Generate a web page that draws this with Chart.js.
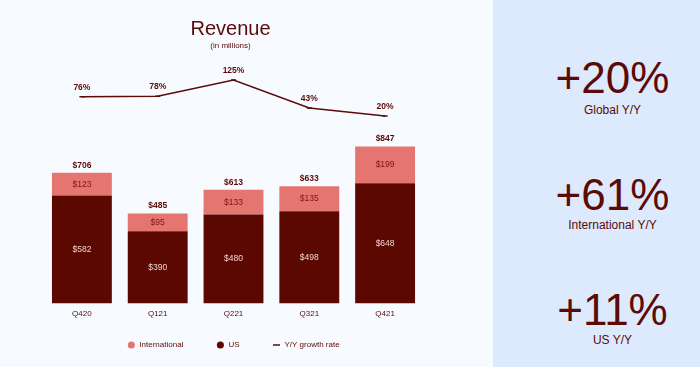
<!DOCTYPE html>
<html>
<head>
<meta charset="utf-8">
<script src="https://cdn.jsdelivr.net/npm/chart.js@4/dist/chart.umd.min.js"></script>
<style>
  body { margin: 0; width: 700px; height: 367px; position: relative; overflow: hidden;
         background: #f7fbff; font-family: "Liberation Sans", Arial, sans-serif; color: #5b0a06; }
  #chart-box { position: absolute; left: 0; top: 0; width: 493px; height: 367px; }
  .title { position: absolute; left: 0; width: 461px; text-align: center; line-height: 1; }
  #title { top: 18px; font-size: 20px; }
  #subtitle { top: 42px; font-size: 8px; }
  #panel { position: absolute; left: 493px; top: 0; width: 207px; height: 367px; background: #dde9fc; }
  .stat, .stat-label { position: absolute; left: 32px; width: 175px; text-align: center; line-height: 1; white-space: nowrap; }
  .stat { font-size: 44px; }
  .stat-label { font-size: 12px; }
</style>
</head>
<body>
<div id="chart-box"><canvas id="revenue"></canvas></div>
<div class="title" id="title">Revenue</div>
<div class="title" id="subtitle">(in millions)</div>
<div id="panel"></div>
<script>
const quarters = ['Q420', 'Q121', 'Q221', 'Q321', 'Q421'];
const usRevenue = [582, 390, 480, 498, 648];
const intlRevenue = [123, 95, 133, 135, 199];
const totalRevenue = [706, 485, 613, 633, 847];
const growthRate = [76, 78, 125, 43, 20];

const statValues = ['+20%', '+61%', '+11%'];
const statLabels = ['Global Y/Y', 'International Y/Y', 'US Y/Y'];

const maroon = '#5b0a06';
const darkBar = '#5a0800';
const lightBar = '#e57571';

// right panel, tops line up with the reference baselines
const statTops = [56, 173, 288];
const labelTops = [104, 219, 334];
const panel = document.getElementById('panel');
statValues.forEach((v, i) => {
    const big = document.createElement('div');
    big.className = 'stat';
    big.style.top = statTops[i] + 'px';
    big.textContent = v;
    const small = document.createElement('div');
    small.className = 'stat-label';
    small.style.top = labelTops[i] + 'px';
    small.textContent = statLabels[i];
    panel.appendChild(big);
    panel.appendChild(small);
});

Chart.defaults.font.family = '"Liberation Sans", Arial, sans-serif';
Chart.defaults.color = maroon;

const valueLabels = {
    id: 'valueLabels',
    afterDatasetsDraw(chart) {
        const ctx = chart.ctx;
        const us = chart.getDatasetMeta(0).data;
        const intl = chart.getDatasetMeta(1).data;
        const line = chart.getDatasetMeta(2).data;
        ctx.save();
        ctx.textAlign = 'center';
        ctx.textBaseline = 'middle';
        ctx.font = '8.5px "Liberation Sans", Arial';
        us.forEach((bar, i) => {
            ctx.fillStyle = '#f2d2cf';
            ctx.fillText('$' + usRevenue[i], bar.x, (bar.y + bar.base) / 2);
        });
        intl.forEach((bar, i) => {
            ctx.fillStyle = '#7a1612';
            ctx.fillText('$' + intlRevenue[i], bar.x, (bar.y + bar.base) / 2);
        });
        ctx.font = 'bold 8.5px "Liberation Sans", Arial';
        ctx.fillStyle = maroon;
        intl.forEach((bar, i) => {
            ctx.fillText('$' + totalRevenue[i], bar.x, bar.y - 7.5);
        });
        line.forEach((pt, i) => {
            ctx.fillText(growthRate[i] + '%', pt.x, pt.y - 9);
        });
        ctx.restore();
    }
};

// legend padding is big to spread the items apart, pull its top back up under the axis
const legendLift = {
    id: 'legendLift',
    afterLayout(chart) {
        chart.legend.top -= 17;
    }
};

const legendRank = [1, 0, 2];

new Chart(document.getElementById('revenue'), {
    type: 'bar',
    data: {
        labels: quarters,
        datasets: [
            { label: 'US', data: usRevenue, backgroundColor: darkBar, pointStyle: 'circle', order: 2 },
            { label: 'International', data: intlRevenue, backgroundColor: lightBar, pointStyle: 'circle', order: 2 },
            { type: 'line', label: 'Y/Y growth rate', data: growthRate, yAxisID: 'y1',
              borderColor: maroon, backgroundColor: maroon, borderWidth: 1.5,
              pointRadius: 2.5, pointBackgroundColor: maroon, pointStyle: 'line', tension: 0, order: 1 }
        ]
    },
    options: {
        responsive: true,
        maintainAspectRatio: false,
        animation: false,
        layout: { padding: { left: 44, right: 70, top: 60, bottom: 0 } },
        datasets: { bar: { barPercentage: 0.79, categoryPercentage: 1 } },
        elements: { point: { pointStyle: 'circle' } },
        scales: {
            x: {
                stacked: true,
                grid: { display: false, drawTicks: false },
                border: { display: false },
                ticks: { padding: 6, font: { size: 8 }, color: maroon }
            },
            y: { stacked: true, display: false, min: 0, max: 1314 },
            y1: { display: false, min: -530, max: 184 }
        },
        plugins: {
            legend: {
                position: 'bottom',
                maxHeight: 42,
                labels: {
                    usePointStyle: true,
                    boxHeight: 5,
                    padding: 33,
                    font: { size: 8 },
                    color: maroon,
                    sort: (a, b) => legendRank[a.datasetIndex] - legendRank[b.datasetIndex]
                }
            },
            tooltip: { enabled: false }
        }
    },
    plugins: [valueLabels, legendLift]
});
</script>
</body>
</html>
